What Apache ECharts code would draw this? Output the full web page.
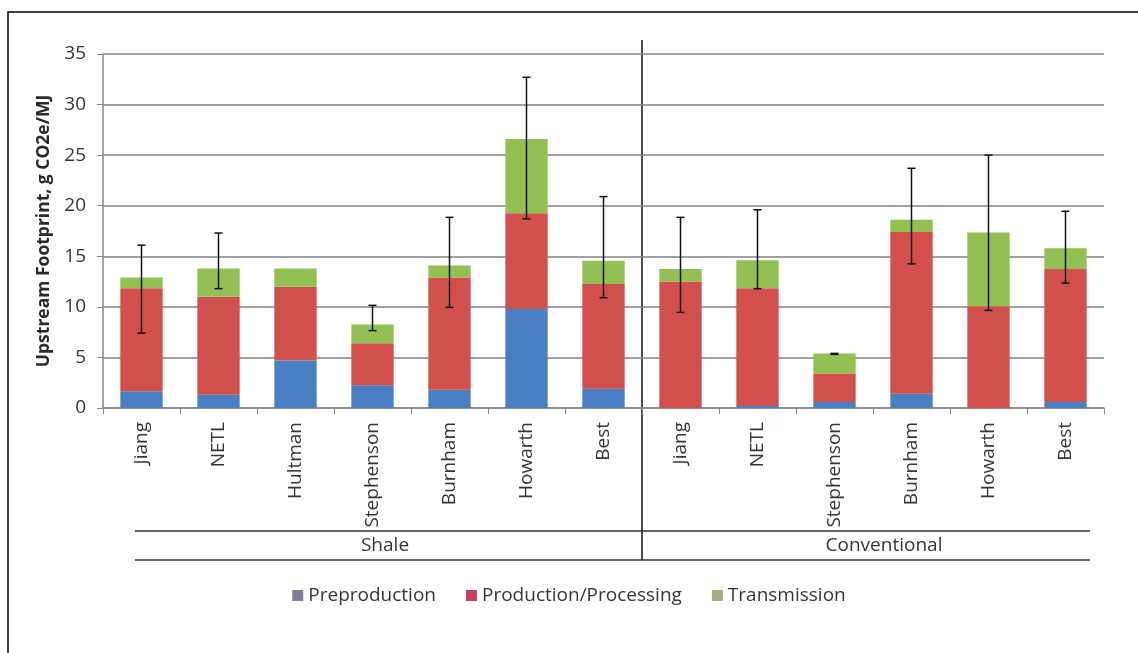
<!DOCTYPE html>
<html><head><meta charset="utf-8">
<script src="https://cdn.jsdelivr.net/npm/echarts@6/dist/echarts.min.js"></script>
<style>html,body{margin:0;padding:0;background:#fff}#c{width:1138px;height:653px}</style>
</head><body><div id="c"></div>
<script>
const categories = ['Jiang','NETL','Hultman','Stephenson','Burnham','Howarth','Best','Jiang','NETL','Stephenson','Burnham','Howarth','Best'];
const groups = ['Shale','Conventional'];
const preproduction = [1.65, 1.3, 4.7, 2.25, 1.8, 9.8, 1.9, 0.0, 0.2, 0.6, 1.4, 0.0, 0.6];
const productionProcessing = [10.2, 9.7, 7.3, 4.15, 11.1, 9.45, 10.35, 12.5, 11.65, 2.8, 16.0, 10.05, 13.15];
const transmission = [1.05, 2.8, 1.8, 1.85, 1.2, 7.35, 2.3, 1.25, 2.75, 2.0, 1.2, 7.3, 2.05];
const errLow = [7.4, 11.8, null, 7.65, 9.95, 18.7, 10.9, 9.45, 11.8, 5.3, 14.25, 9.65, 12.35];
const errHigh = [16.1, 17.3, null, 10.15, 18.85, 32.7, 20.9, 18.85, 19.6, 5.4, 23.7, 25.0, 19.45];
const yTicks = [0, 5, 10, 15, 20, 25, 30, 35];

const FONT = '"Open Sans", "Noto Sans", sans-serif';
const GL = 103, GR = 34, GT = 54, GB = 245;
const W = 1138, H = 653;
const plotW = W - GL - GR;
const divX = GL + plotW * 7 / 13;
const TXT = '#363636';

const chart = echarts.init(document.getElementById('c'), null, {renderer: 'canvas'});
const errData = categories.map((c, i) => [i, errLow[i], errHigh[i]]).filter(d => d[1] != null);

chart.setOption({
  animation: false,
  backgroundColor: '#fff',
  grid: {left: GL, right: GR, top: GT, bottom: GB, containLabel: false},
  legend: {
    top: 581, left: 'center',
    itemWidth: 11, itemHeight: 11, itemGap: 30,
    textStyle: {fontFamily: FONT, fontSize: 19, color: TXT},
    data: [
      {name: 'Preproduction', icon: 'rect', itemStyle: {color: '#7f7f97'}},
      {name: 'Production/Processing', icon: 'rect', itemStyle: {color: '#c8405f'}},
      {name: 'Transmission', icon: 'rect', itemStyle: {color: '#a3ae82'}}
    ]
  },
  xAxis: {
    type: 'category', data: categories,
    axisLine: {lineStyle: {color: '#888', width: 1.5}},
    axisTick: {show: true, length: 6, lineStyle: {color: '#888'}},
    axisLabel: {rotate: 90, fontFamily: FONT, fontSize: 19, color: TXT, margin: 14, interval: 0}
  },
  yAxis: {
    type: 'value', min: yTicks[0], max: yTicks[yTicks.length - 1], interval: 5,
    name: 'Upstream Footprint, g CO2e/MJ', nameLocation: 'middle', nameGap: 46,
    nameTextStyle: {fontFamily: FONT, fontSize: 17.5, fontWeight: 'bold', color: '#2a2a2a'},
    axisLine: {show: true, lineStyle: {color: '#888', width: 1.5}},
    axisTick: {show: true, length: 6, lineStyle: {color: '#888'}},
    axisLabel: {fontFamily: FONT, fontSize: 19, color: TXT, margin: 17},
    splitLine: {lineStyle: {color: '#808080', width: 1.5}}
  },
  series: [
    {name: 'Preproduction', type: 'bar', stack: 't', data: preproduction, barWidth: '55%', itemStyle: {color: '#4a7fc4'}},
    {name: 'Production/Processing', type: 'bar', stack: 't', data: productionProcessing, itemStyle: {color: '#d1504e'}},
    {name: 'Transmission', type: 'bar', stack: 't', data: transmission, itemStyle: {color: '#93c052'}},
    {
      name: 'err', type: 'custom', data: errData, z: 10,
      encode: {x: 0, y: [1, 2]},
      renderItem: function (params, api) {
        const lo = api.coord([api.value(0), api.value(1)]);
        const hi = api.coord([api.value(0), api.value(2)]);
        const hw = 4;
        const st = {stroke: '#111', lineWidth: 1.5};
        return {type: 'group', children: [
          {type: 'line', shape: {x1: lo[0], y1: lo[1], x2: hi[0], y2: hi[1]}, style: st},
          {type: 'line', shape: {x1: lo[0]-hw, y1: lo[1], x2: lo[0]+hw, y2: lo[1]}, style: st},
          {type: 'line', shape: {x1: hi[0]-hw, y1: hi[1], x2: hi[0]+hw, y2: hi[1]}, style: st}
        ]};
      }
    }
  ],
  graphic: [
    {type: 'rect', shape: {x: 8, y: 12, width: 1200, height: 700}, style: {fill: null, stroke: '#000', lineWidth: 1.5}, silent: true},
    {type: 'line', shape: {x1: divX, y1: 40, x2: divX, y2: 560}, style: {stroke: '#111', lineWidth: 1.5}},
    {type: 'line', shape: {x1: 135, y1: 531, x2: 1090, y2: 531}, style: {stroke: '#333', lineWidth: 1.5}},
    {type: 'line', shape: {x1: 135, y1: 560, x2: 1090, y2: 560}, style: {stroke: '#333', lineWidth: 1.5}},
    {type: 'text', x: 385, y: 546, style: {text: groups[0], fontFamily: FONT, fontSize: 19, fill: TXT, align: 'center', verticalAlign: 'middle'}},
    {type: 'text', x: 884, y: 546, style: {text: groups[1], fontFamily: FONT, fontSize: 19, fill: TXT, align: 'center', verticalAlign: 'middle'}}
  ]
});
</script>
</body></html>
